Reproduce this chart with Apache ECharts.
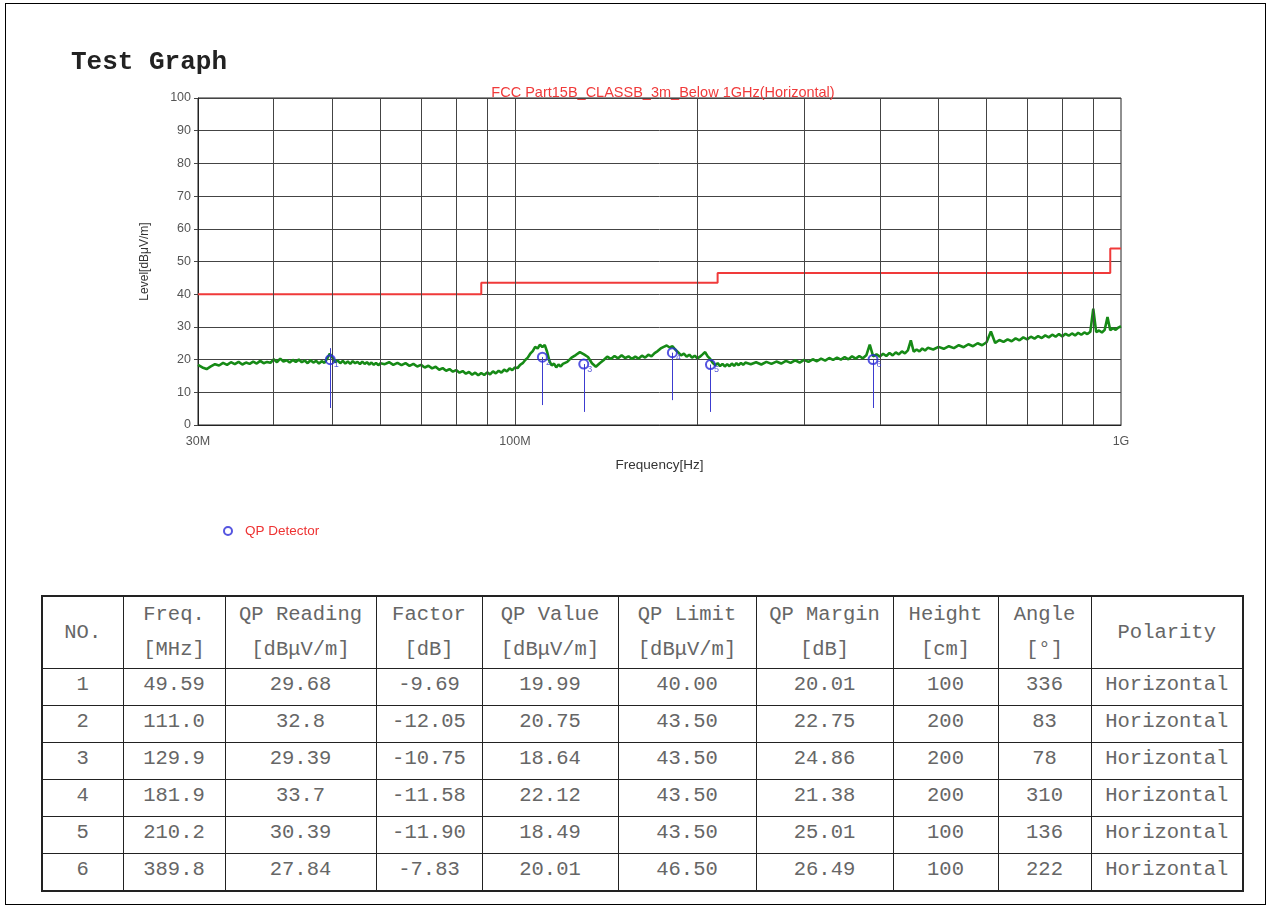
<!DOCTYPE html>
<html>
<head>
<meta charset="utf-8">
<title>Test Graph</title>
<script src="https://cdn.jsdelivr.net/npm/echarts@6/dist/echarts.min.js"></script>
<style>
body{margin:0;background:#fff;}
.page{position:relative;width:1271px;height:910px;overflow:hidden;background:#fff;}
.frame{position:absolute;left:5px;top:3px;width:1261px;height:902px;border:1px solid #000;box-sizing:border-box;}
#main{position:absolute;left:0;top:0;width:1271px;height:580px;}
#tbl{position:absolute;left:41px;top:595px;border-collapse:collapse;table-layout:fixed;
  font-family:'Liberation Mono','Courier New',monospace;font-size:20.5px;color:#666;border:2px solid #222;}
#tbl td{border:1px solid #222;text-align:center;padding:0;white-space:nowrap;}
#tbl tr.head td{height:67px;line-height:35px;padding-bottom:1px;}
#tbl tr.row td{height:31px;padding-bottom:5px;}
</style>
</head>
<body>
<div class="page">
  <div class="frame"></div>
  <div id="main"></div>
  <table id="tbl"></table>
</div>

<script>
// limit line (FCC class B, 3m)
const limitFreq  = [30, 88, 88, 216, 216, 960, 960, 1000];
const limitLevel = [40, 40, 43.5, 43.5, 46.5, 46.5, 54, 54];

// measured trace, MHz / dBuV/m
const traceFreq = [
  30,30.5,31,31.5,32,32.5,33,33.5,34,34.5,35,35.5,36,36.5,37,37.5,38,38.5,39,39.5,
  40,40.5,41,41.5,42,42.5,43,43.5,44,44.5,45,45.5,46,46.5,47,47.5,48,48.5,49,49.5,
  50,50.5,51,51.5,52,52.5,53,53.5,54,54.5,55,55.5,56,56.5,57,57.5,58,58.5,59,59.5,60,
  61,62,63,64,65,66,67,68,69,70,71,72,73,74,75,76,77,78,79,80,
  81,82,83,84,85,86,87,88,89,90,91,92,93,94,95,96,97,98,99,100,
  101,102,103,104,105,106,107,108,109,110,111,112,113,114,115,116,117,118,119,120,
  122,124,126,128,130,132,134,136,138,140,142,144,146,148,150,152,154,156,158,160,
  162,164,166,168,170,172,174,176,178,180,182,184,186,188,190,192,194,196,198,200,
  202,204,206,208,210,212,214,216,218,220,222,224,226,228,230,232,234,236,238,240,
  245,250,255,260,265,270,275,280,285,290,295,300,305,310,315,320,325,330,335,340,
  345,350,355,360,365,370,375,380,385,390,395,400,405,410,415,420,425,430,435,440,
  445,450,455,460,465,470,475,480,
  490,500,510,520,530,540,550,560,570,580,590,600,610,620,630,640,650,660,670,680,
  690,700,710,720,730,740,750,760,770,780,790,800,810,820,830,840,850,860,870,880,
  890,900,910,920,930,940,950,960,970,980,990,1000
];
const traceLevel = [
  18.4,17.6,17.1,17.9,18.6,18.2,19.0,18.4,19.2,18.6,19.3,18.5,19.1,18.7,19.4,18.8,19.6,18.9,19.3,19.0,
  20.1,19.2,20.3,19.4,19.8,19.1,19.9,19.3,20.0,19.2,19.7,18.9,19.8,19.1,19.6,18.8,19.5,19.0,20.3,21.8,
  20.6,19.2,19.7,18.9,19.6,18.8,19.4,18.7,19.5,18.9,19.3,18.6,19.4,18.7,19.2,18.5,19.1,18.4,19.0,18.3,18.9,
  18.6,19.2,18.4,19.0,18.3,18.9,18.1,18.7,17.9,18.4,17.6,18.1,17.3,17.8,16.9,17.4,16.6,17.1,16.3,16.8,
  16.0,16.5,15.7,16.2,15.4,16.0,15.2,15.9,15.3,16.1,15.5,16.4,15.8,16.6,16.0,16.9,16.4,17.3,16.8,17.6,
  17.4,18.4,18.9,19.9,20.6,21.8,22.6,23.9,23.4,24.6,23.8,24.5,22.4,19.6,18.2,18.8,17.6,18.5,17.9,18.7,
  19.3,20.6,21.4,22.3,21.6,20.8,18.9,17.8,18.9,19.8,20.9,20.2,21.1,20.4,21.3,20.5,21.0,20.2,20.9,20.3,
  21.2,20.6,21.5,21.0,22.0,22.6,23.4,23.9,24.3,23.7,24.1,23.0,22.2,21.3,21.8,20.9,21.5,20.6,21.2,20.4,
  20.9,21.6,22.3,21.0,20.2,19.0,18.3,18.9,18.0,18.7,17.9,18.6,18.0,18.8,18.1,18.9,18.3,19.0,18.4,19.1,
  18.6,19.2,18.5,19.3,18.7,19.4,18.8,19.6,19.0,19.8,19.1,19.9,19.3,20.1,19.5,20.3,19.7,20.5,19.9,20.6,
  20.0,20.8,20.1,21.0,20.3,21.1,20.4,21.3,24.6,21.0,21.6,20.9,21.8,21.1,22.0,21.3,22.2,21.6,22.5,21.9,
  22.8,25.9,22.4,23.1,22.5,23.4,22.8,23.6,
  23.1,23.9,23.3,24.1,23.5,24.4,23.8,24.7,24.1,25.0,24.4,25.3,28.6,25.1,26.0,25.4,26.2,25.6,26.5,25.9,
  26.8,26.2,27.0,26.4,27.2,26.6,27.4,26.8,27.6,27.0,27.8,27.1,27.9,27.3,28.0,27.4,28.2,27.6,28.3,27.8,
  28.5,35.6,28.4,28.9,28.3,29.1,33.0,29.0,29.6,29.1,29.8,30.2
];

// QP detector results (table)
const markNo     = ['1', '2', '3', '4', '5', '6'];
const markFreq   = ['49.59', '111.0', '129.9', '181.9', '210.2', '389.8'];
const qpReading  = ['29.68', '32.8', '29.39', '33.7', '30.39', '27.84'];
const qpFactor   = ['-9.69', '-12.05', '-10.75', '-11.58', '-11.90', '-7.83'];
const qpValue    = ['19.99', '20.75', '18.64', '22.12', '18.49', '20.01'];
const qpLimit    = ['40.00', '43.50', '43.50', '43.50', '43.50', '46.50'];
const qpMargin   = ['20.01', '22.75', '24.86', '21.38', '25.01', '26.49'];
const antHeight  = ['100', '200', '200', '200', '100', '100'];
const turnAngle  = ['336', '83', '78', '310', '136', '222'];
const polarity   = ['Horizontal', 'Horizontal', 'Horizontal', 'Horizontal', 'Horizontal', 'Horizontal'];

// blue stick under each marker
const stickTop    = [23.5, 20.75, 18.64, 22.12, 18.49, 20.01];
const stickBottom = [5.2, 6.1, 4.0, 7.6, 4.0, 5.2];

// vertical grid lines of the log axis
const gridFreq = [40, 50, 60, 70, 80, 90, 100, 200, 300, 400, 500, 600, 700, 800, 900];

// table
const headRows = [
  ['NO.', 'Freq.<br>[MHz]', 'QP Reading<br>[dB&mu;V/m]', 'Factor<br>[dB]', 'QP Value<br>[dB&mu;V/m]',
   'QP Limit<br>[dB&mu;V/m]', 'QP Margin<br>[dB]', 'Height<br>[cm]', 'Angle<br>[&deg;]', 'Polarity']
];
const colWidth = [81, 102, 151, 106, 136, 138, 137, 105, 93, 152];

const tbl = document.getElementById('tbl');
let html = '<colgroup>' + colWidth.map(w => `<col style="width:${w}px">`).join('') + '</colgroup>';
html += '<tr class="head">' + headRows[0].map(t => `<td>${t}</td>`).join('') + '</tr>';
for (let i = 0; i < markNo.length; i++) {
  const cells = [markNo[i], markFreq[i], qpReading[i], qpFactor[i], qpValue[i], qpLimit[i],
                 qpMargin[i], antHeight[i], turnAngle[i], polarity[i]];
  html += '<tr class="row">' + cells.map(t => `<td>${t}</td>`).join('') + '</tr>';
}
tbl.innerHTML = html;

// chart
const myChart = echarts.init(document.getElementById('main'));
const font = 'Liberation Sans, Arial, sans-serif';

const option = {
  animation: false,
  backgroundColor: 'transparent',
  textStyle: { fontFamily: font },
  title: [
    {
      text: 'Test Graph',
      left: 66, top: 44,
      textStyle: { fontFamily: 'Liberation Mono, Courier New, monospace', fontWeight: 'bold', fontSize: 26, color: '#222' }
    },
    {
      text: 'FCC Part15B_CLASSB_3m_Below 1GHz(Horizontal)',
      left: 658, top: 80, textAlign: 'center',
      textStyle: { fontFamily: font, fontWeight: 'normal', fontSize: 14.5, color: '#f03a3a' }
    }
  ],
  legend: {
    data: ['QP Detector'],
    left: 218, top: 519,
    itemWidth: 8, itemHeight: 8,
    textStyle: { color: '#ee3333', fontSize: 13.5, fontFamily: font, padding: [0, 0, 0, 8] }
  },
  grid: {
    left: 198, top: 98, width: 923, height: 327,
    show: true, borderColor: '#222', borderWidth: 1
  },
  xAxis: {
    type: 'log',
    logBase: 10,
    min: 30, max: 1000,
    name: 'Frequency[Hz]',
    nameLocation: 'middle',
    nameGap: 33,
    nameTextStyle: { color: '#333', fontSize: 13.5 },
    axisLine: { lineStyle: { color: '#222' } },
    axisTick: { show: false },
    splitLine: { show: false },
    axisLabel: {
      color: '#555', fontSize: 12.5, margin: 10,
      showMinLabel: true, showMaxLabel: true,
      formatter: v => v >= 1000 ? Math.round(v / 1000) + 'G' : Math.round(v) + 'M'
    }
  },
  yAxis: {
    type: 'value',
    min: 0, max: 100, interval: 10,
    name: 'Level[dBμV/m]',
    nameLocation: 'middle',
    nameGap: 47,
    nameTextStyle: { color: '#333', fontSize: 12 },
    axisLine: { show: true, lineStyle: { color: '#222' } },
    axisTick: { show: true, length: 4, lineStyle: { color: '#444' } },
    axisLabel: { color: '#555', fontSize: 12.5, margin: 7 },
    splitLine: { show: true, lineStyle: { color: '#444', width: 1 } }
  },
  series: [
    {
      name: 'grid',
      type: 'line',
      data: [],
      silent: true,
      z: 1,
      markLine: {
        silent: true,
        symbol: ['none', 'none'],
        label: { show: false },
        lineStyle: { color: '#444', width: 1, type: 'solid' },
        data: gridFreq.map(f => ({ xAxis: f }))
      }
    },
    {
      name: 'Limit',
      type: 'line',
      data: limitFreq.map((f, i) => [f, limitLevel[i]]),
      showSymbol: false,
      lineStyle: { color: '#f03a3a', width: 2 },
      z: 3
    },
    {
      name: 'Trace',
      type: 'line',
      data: traceFreq.map((f, i) => [f, traceLevel[i]]),
      showSymbol: false,
      lineStyle: { color: '#168a16', width: 2.6 },
      z: 4
    },
    {
      name: 'QP Detector',
      type: 'scatter',
      data: markFreq.map((f, i) => [parseFloat(f), parseFloat(qpValue[i])]),
      symbol: 'circle',
      symbolSize: 9,
      itemStyle: { color: 'rgba(255,255,255,0)', borderColor: '#2a2ad8', borderWidth: 2 },
      label: {
        show: true,
        position: [9, 6],
        formatter: p => markNo[p.dataIndex],
        fontSize: 9,
        color: '#3535d0'
      },
      markLine: {
        silent: true,
        symbol: ['none', 'none'],
        label: { show: false },
        lineStyle: { color: '#3c3cd0', width: 1, type: 'solid' },
        data: markFreq.map((f, i) => [
          { coord: [parseFloat(f), stickTop[i]] },
          { coord: [parseFloat(f), stickBottom[i]] }
        ])
      },
      z: 5
    }
  ]
};

myChart.setOption(option);
</script>
</body>
</html>
